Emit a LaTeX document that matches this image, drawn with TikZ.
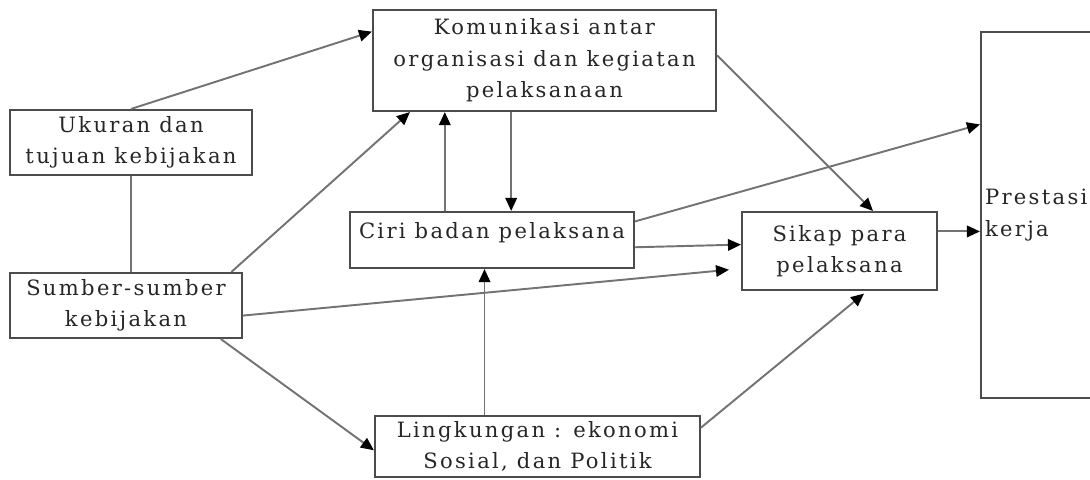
\documentclass[tikz,border=0pt]{standalone}
\usepackage{fontspec}
\newfontfamily\diagfont[LetterSpace=11]{DejaVu Serif}
\usetikzlibrary{positioning, arrows.meta, calc}

\begin{document}
\begin{tikzpicture}[
    box/.style={rectangle, draw=black!70, line width=1.2pt, align=center, inner sep=0pt,
                text=black!85, font=\diagfont\fontsize{12}{18}\selectfont},
    arrow/.style={-{Triangle[length=2.6mm, width=2.3mm, color=black]}, draw=black!55, line width=1.1pt},
    link/.style={draw=black!55, line width=1.1pt}
]

    \useasboundingbox (0, 0) rectangle (21.8, 9.58);

    % Left column
    \node[box, minimum width=4.84cm, minimum height=1.3cm] (ukuran) at (2.62, 6.73) {Ukuran dan\\tujuan kebijakan};
    \node[box, minimum width=4.64cm, minimum height=1.3cm] (sumber) at (2.52, 3.47) {Sumber-sumber\\kebijakan};

    % Middle column
    \node[box, minimum width=6.86cm, minimum height=2.02cm] (komunikasi) at (10.89, 8.37) {Komunikasi antar\\organisasi dan kegiatan\\pelaksanaan};
    \node[box, minimum width=5.68cm, minimum height=1.12cm, text depth=0.4cm] (ciri) at (9.84, 4.78) {Ciri badan pelaksana};
    \node[box, minimum width=6.5cm, minimum height=1.22cm] (lingkungan) at (10.75, 0.65) {Lingkungan : ekonomi\\Sosial, dan Politik};

    % Right column
    \node[box, minimum width=3.9cm, minimum height=1.56cm] (sikap) at (16.79, 4.56) {Sikap para\\pelaksana};
    \node[box, minimum width=2.8cm, minimum height=7.32cm] (prestasi) at (21.02, 5.28) {};
    \node[box, draw=none, anchor=west, align=left] (prestasitext) at ($(prestasi.west)+(0.08, 0)$) {Prestasi\\kerja};

    % Arrows into Komunikasi
    \draw[arrow] (ukuran.north) -- ($(komunikasi.north west)!0.22!(komunikasi.south west)$);
    \draw[link] (ukuran.south) -- (ukuran.south |- sumber.north);
    \draw[arrow] ($(sumber.north west)!0.95!(sumber.north east)$) -- ($(komunikasi.south west)!0.11!(komunikasi.south east)$);

    % Between Komunikasi and Ciri
    \coordinate (up) at ($(ciri.north west)!0.335!(ciri.north east)$);
    \draw[arrow] (up) -- (up |- komunikasi.south);
    \coordinate (down) at ($(ciri.north west)!0.567!(ciri.north east)$);
    \draw[arrow] (down |- komunikasi.south) -- (down);

    % Arrows to Sikap and Prestasi
    \draw[arrow] ($(komunikasi.north east)!0.45!(komunikasi.south east)$) -- ($(sikap.north west)!0.67!(sikap.north east)$);
    \draw[arrow] ($(ciri.north east)!0.18!(ciri.south east)$) -- ($(prestasi.north west)!0.254!(prestasi.south west)$);
    \draw[arrow] ($(ciri.north east)!0.625!(ciri.south east)$) -- ($(sikap.north west)!0.42!(sikap.south west)$);
    \draw[arrow, shorten >=0.24cm] ($(sumber.north east)!0.65!(sumber.south east)$) -- ($(sikap.north west)!0.72!(sikap.south west)$);
    \coordinate (out) at ($(sikap.north east)!0.256!(sikap.south east)$);
    \draw[arrow] (out) -- (out -| prestasi.west);

    % Lingkungan
    \draw[arrow] ($(sumber.south west)!0.905!(sumber.south east)$) -- ($(lingkungan.north west)!0.56!(lingkungan.south west)$);
    \coordinate (env) at ($(lingkungan.north west)!0.338!(lingkungan.north east)$);
    \draw[arrow] (env) -- (env |- ciri.south);
    \draw[arrow, shorten >=0.08cm] ($(lingkungan.north east)!0.2!(lingkungan.south east)$) -- ($(sikap.south west)!0.64!(sikap.south east)$);

\end{tikzpicture}
\end{document}
